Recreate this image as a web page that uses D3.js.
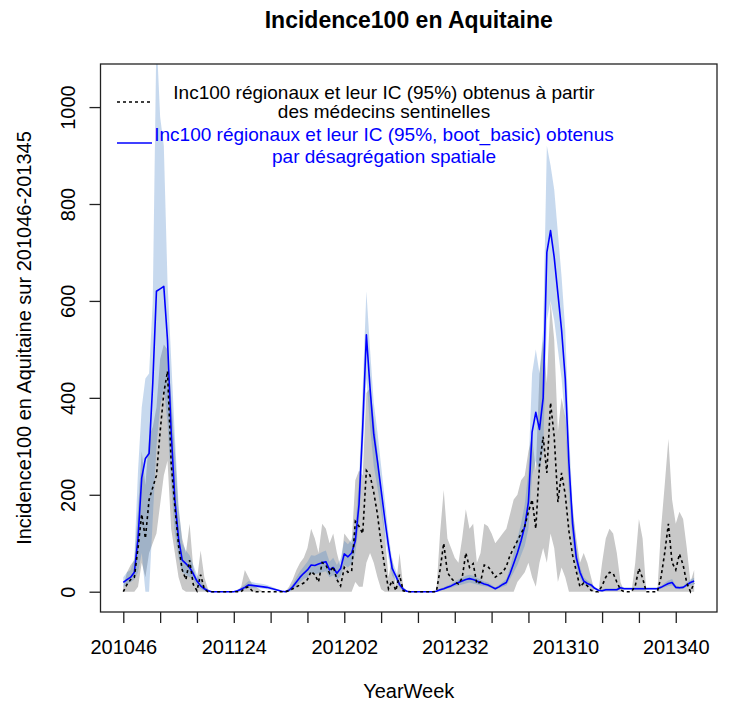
<!DOCTYPE html>
<html>
<head>
<meta charset="utf-8">
<script src="https://cdn.jsdelivr.net/npm/d3@7"></script>
<style>
  html, body { margin: 0; padding: 0; background: #ffffff; }
  svg { display: block; }
  text { font-family: "Liberation Sans", Arial, sans-serif; }
</style>
</head>
<body>
<svg id="chart" width="729" height="706"></svg>
<script>
// Weekly incidence per 100 000 in Aquitaine, weeks 2010-46 to 2013-45
const yearSpans = [[2010, 46, 52], [2011, 1, 52], [2012, 1, 52], [2013, 1, 45]];
const weeks = [];
yearSpans.forEach(([yr, w0, w1]) => {
  for (let w = w0; w <= w1; w++) weeks.push(String(yr) + String(w).padStart(2, "0"));
});

const tickLabels = ["201046", "201124", "201202", "201232", "201310", "201340"];
const yTicks = [0, 200, 400, 600, 800, 1000];

// Sentinel-physician estimate and its 95% CI
const sentinel = [
  0, 15, 25, 30, 90, 160, 110, 190, 215, 240,
  330, 410, 455, 265, 175, 95, 45, 25, 65, 15,
  2, 35, 5, 0, 0, 0, 0, 0, 0, 0,
  0, 0, 0, 8, 10, 2, 0, 0, 0, 0,
  0, 0, 0, 0, 0, 2, 6, 10, 14, 18,
  25, 42, 35, 20, 60, 55, 38, 52, 25, 12,
  50, 40, 42, 145, 135, 120, 250, 240, 205, 160,
  100, 50, 6, 23, 2, 35, 2, 0, 0, 0,
  0, 0, 0, 0, 0, 0, 45, 100, 40, 28,
  20, 16, 28, 80, 50, 58, 16, 20, 55, 52,
  42, 30, 36, 40, 52, 75, 90, 105, 120, 135,
  165, 190, 130, 260, 320, 245, 390, 320, 185, 245,
  200, 125, 75, 42, 10, 18, 12, 3, 0, 0,
  12, 30, 40, 38, 20, 4, 0, 0, 0, 12,
  48, 28, 0, 0, 0, 0, 30, 80, 140, 60,
  45, 78, 55, 18, 0, 18
];
const sentinelLow = [
  0, 0, 0, 0, 10, 60, 30, 80, 100, 120,
  180, 240, 270, 130, 80, 30, 5, 0, 0, 0,
  0, 0, 0, 0, 0, 0, 0, 0, 0, 0,
  0, 0, 0, 0, 0, 0, 0, 0, 0, 0,
  0, 0, 0, 0, 0, 0, 0, 0, 0, 0,
  0, 0, 0, 0, 0, 0, 0, 0, 0, 0,
  0, 0, 0, 20, 10, 10, 60, 80, 60, 30,
  5, 0, 0, 0, 0, 0, 0, 0, 0, 0,
  0, 0, 0, 0, 0, 0, 0, 0, 0, 0,
  0, 0, 0, 0, 0, 0, 0, 0, 0, 0,
  0, 0, 0, 0, 0, 0, 0, 20, 30, 40,
  60, 30, 10, 60, 90, 60, 120, 90, 20, 50,
  30, 0, 0, 0, 0, 0, 0, 0, 0, 0,
  0, 0, 0, 0, 0, 0, 0, 0, 0, 0,
  0, 0, 0, 0, 0, 0, 0, 0, 0, 0,
  0, 0, 0, 0, 0, 0
];
const sentinelHigh = [
  10, 40, 55, 65, 170, 290, 220, 320, 340, 380,
  480, 510, 500, 400, 290, 170, 110, 80, 140, 50,
  25, 85, 30, 5, 0, 0, 0, 0, 0, 0,
  0, 0, 10, 45, 30, 15, 10, 5, 0, 0,
  0, 0, 0, 0, 0, 10, 25, 45, 60, 70,
  90, 130, 110, 80, 140, 130, 100, 120, 80, 50,
  120, 110, 100, 230, 250, 240, 410, 420, 360, 290,
  200, 120, 30, 70, 10, 80, 10, 0, 0, 0,
  0, 0, 0, 0, 0, 0, 120, 210, 110, 90,
  70, 60, 110, 170, 130, 140, 60, 80, 140, 135,
  120, 100, 110, 120, 130, 160, 190, 200, 230, 240,
  290, 320, 250, 450, 520, 430, 600, 520, 330, 400,
  360, 250, 170, 110, 60, 80, 60, 30, 0, 0,
  60, 110, 130, 120, 80, 20, 0, 0, 0, 60,
  150, 110, 0, 0, 0, 0, 130, 220, 315, 190,
  140, 165, 150, 90, 20, 45
];

// Spatial-disaggregation estimate and its bootstrap 95% CI
const disagg = [
  19, 25, 30, 40, 110, 235, 275, 285, 430, 620,
  625, 630, 520, 330, 190, 110, 65, 58, 50, 37,
  22, 12, 6, 2, 0, 0, 0, 0, 0, 0,
  0, 2, 5, 9, 14, 13, 12, 11, 10, 9,
  7, 5, 3, 1, 0, 3, 10, 20, 30, 38,
  45, 55, 54, 57, 60, 62, 45, 50, 38, 48,
  78, 72, 80, 105, 180, 340, 530, 420, 325, 270,
  210, 150, 95, 48, 32, 15, 5, 1, 0, 0,
  0, 0, 0, 0, 0, 1, 4, 6, 9, 12,
  16, 19, 22, 25, 27, 25, 22, 19, 16, 14,
  10, 6, 10, 15, 19, 37, 58, 80, 105, 135,
  185, 330, 370, 335, 400, 700, 745, 690, 615, 540,
  440, 265, 140, 70, 40, 22, 17, 14, 7, 3,
  2, 4, 4, 4, 4, 8, 6, 6, 6, 6,
  6, 6, 6, 6, 6, 6, 9, 13, 17, 19,
  9, 8, 9, 14, 19, 22
];
const disaggLow = [
  10, 15, 20, 25, 40, 80, 0, 0, 150, 300,
  380, 420, 350, 220, 120, 70, 40, 35, 30, 25,
  12, 5, 2, 0, 0, 0, 0, 0, 0, 0,
  0, 0, 2, 5, 8, 8, 7, 7, 6, 5,
  4, 2, 1, 0, 0, 0, 4, 12, 20, 26,
  30, 38, 36, 38, 40, 42, 30, 34, 25, 32,
  55, 50, 58, 80, 140, 280, 440, 340, 260, 215,
  165, 115, 70, 33, 22, 8, 2, 0, 0, 0,
  0, 0, 0, 0, 0, 0, 2, 4, 6, 8,
  11, 13, 15, 17, 19, 17, 15, 13, 11, 10,
  7, 4, 7, 10, 13, 26, 40, 55, 75, 95,
  130, 240, 270, 250, 290, 560, 600, 560, 500, 440,
  350, 200, 100, 50, 28, 15, 12, 10, 4, 1,
  0, 2, 2, 2, 2, 5, 4, 4, 4, 4,
  4, 4, 4, 4, 4, 4, 6, 9, 12, 13,
  6, 5, 6, 10, 13, 15
];
const disaggHigh = [
  30, 40, 45, 70, 250, 380, 440, 450, 600, 1150,
  980, 920, 640, 480, 320, 180, 100, 85, 75, 55,
  35, 22, 12, 5, 0, 0, 0, 0, 0, 0,
  0, 4, 9, 15, 22, 20, 18, 17, 16, 14,
  11, 8, 5, 2, 0, 6, 16, 30, 42, 52,
  62, 75, 74, 78, 82, 85, 62, 70, 55, 68,
  105, 98, 108, 135, 230, 420, 620, 500, 390, 330,
  260, 190, 120, 65, 44, 22, 9, 3, 0, 0,
  0, 0, 0, 0, 0, 2, 6, 9, 13, 16,
  21, 25, 29, 33, 35, 33, 29, 25, 21, 19,
  14, 9, 14, 20, 26, 50, 80, 110, 140, 180,
  250, 450, 500, 450, 540, 920, 880, 830, 740, 650,
  540, 330, 180, 90, 52, 30, 23, 18, 10, 5,
  4, 7, 7, 7, 7, 12, 9, 9, 9, 9,
  9, 9, 9, 9, 9, 9, 12, 18, 23, 26,
  13, 11, 12, 19, 25, 29
];

// legend entries: text lines sit at fixed baselines beside each key
const legendLines = [
  { text: ["Inc100 régionaux et leur IC (95%) obtenus à partir", "des médecins sentinelles"], color: "#000000", dash: "3,3", baselines: [99, 118] },
  { text: ["Inc100 régionaux et leur IC (95%, boot_basic) obtenus", "par désagrégation spatiale"], color: "#0000ff", dash: null, baselines: [141, 163] }
];

// ---- layout ----
const box = { left: 100.5, right: 717, top: 64, bottom: 612 };
const svg = d3.select("#chart");

const x = d3.scalePoint()
  .domain(weeks)
  .range([123.3, 123.3 + (weeks.length - 1) * 3.683]);

const yMax = 1047;
const y = d3.scaleLinear()
  .domain([-0.04 * yMax, yMax * 1.04])
  .range([box.bottom, box.top]);

const rows = weeks.map((w, i) => ({
  w,
  s: sentinel[i], sl: sentinelLow[i], sh: sentinelHigh[i],
  d: disagg[i], dl: disaggLow[i], dh: disaggHigh[i]
}));

svg.append("defs").append("clipPath").attr("id", "plotclip")
  .append("rect")
  .attr("x", box.left).attr("y", box.top)
  .attr("width", box.right - box.left).attr("height", box.bottom - box.top);

const plot = svg.append("g").attr("clip-path", "url(#plotclip)");

// CI bands
plot.append("path")
  .datum(rows)
  .attr("fill", "#c8c8c8")
  .attr("d", d3.area().x(r => x(r.w)).y0(r => y(r.sl)).y1(r => y(r.sh)));

plot.append("path")
  .datum(rows)
  .attr("fill", "rgb(70,130,200)")
  .attr("fill-opacity", 0.3)
  .attr("d", d3.area().x(r => x(r.w)).y0(r => y(r.dl)).y1(r => y(r.dh)));

// estimates
plot.append("path")
  .datum(rows)
  .attr("fill", "none")
  .attr("stroke", "#0000ff")
  .attr("stroke-width", 1.6)
  .attr("stroke-linejoin", "round")
  .attr("d", d3.line().x(r => x(r.w)).y(r => y(r.d)));

plot.append("path")
  .datum(rows)
  .attr("fill", "none")
  .attr("stroke", "#000000")
  .attr("stroke-width", 1.6)
  .attr("stroke-dasharray", "3,3")
  .attr("d", d3.line().x(r => x(r.w)).y(r => y(r.s)));

// plot frame
svg.append("rect")
  .attr("x", box.left).attr("y", box.top)
  .attr("width", box.right - box.left).attr("height", box.bottom - box.top)
  .attr("fill", "none").attr("stroke", "#222").attr("stroke-width", 1.3);

// x axis: a tick every 10 weeks, a label every 30
const xTickVals = weeks.filter((w, i) => i % 10 === 0);
const xAxis = svg.append("g")
  .attr("transform", `translate(0,${box.bottom})`)
  .call(d3.axisBottom(x).tickValues(xTickVals).tickSize(11)
    .tickFormat(w => tickLabels.includes(w) ? w : ""));
xAxis.select(".domain").remove();
xAxis.selectAll("line").attr("stroke", "#222").attr("stroke-width", 1.3);
xAxis.selectAll("text")
  .attr("y", 42).attr("dy", 0)
  .attr("fill", "#000").style("font-size", "20px");

// y axis with labels parallel to the axis
const yAxis = svg.append("g")
  .attr("transform", `translate(${box.left},0)`)
  .call(d3.axisLeft(y).tickValues(yTicks).tickSize(11).tickFormat(d3.format("d")));
yAxis.select(".domain").remove();
yAxis.selectAll("line").attr("stroke", "#222").attr("stroke-width", 1.3);
yAxis.selectAll("text")
  .attr("x", 0).attr("y", -25.5).attr("dy", 0)
  .attr("transform", "rotate(-90)")
  .attr("text-anchor", "middle")
  .attr("fill", "#000").style("font-size", "20px");

// titles
svg.append("text")
  .attr("x", (box.left + box.right) / 2).attr("y", 28)
  .attr("text-anchor", "middle")
  .style("font-size", "23px").style("font-weight", "bold")
  .text("Incidence100 en Aquitaine");

svg.append("text")
  .attr("x", (box.left + box.right) / 2).attr("y", 698)
  .attr("text-anchor", "middle")
  .style("font-size", "20px")
  .text("YearWeek");

svg.append("text")
  .attr("transform", `translate(31,${(box.top + box.bottom) / 2}) rotate(-90)`)
  .attr("text-anchor", "middle")
  .style("font-size", "20px")
  .text("Incidence100 en Aquitaine sur 201046-201345");

// legend
const legend = svg.append("g");
legendLines.forEach((item, k) => {
  const cy = 102 + k * 41;
  legend.append("line")
    .attr("x1", 117).attr("x2", 152).attr("y1", cy).attr("y2", cy)
    .attr("stroke", item.color).attr("stroke-width", 1.6)
    .attr("stroke-dasharray", item.dash);
  item.text.forEach((t, j) => {
    legend.append("text")
      .attr("x", 384).attr("y", item.baselines[j])
      .attr("text-anchor", "middle")
      .attr("fill", item.color)
      .style("font-size", "19px")
      .text(t);
  });
});
</script>
</body>
</html>
